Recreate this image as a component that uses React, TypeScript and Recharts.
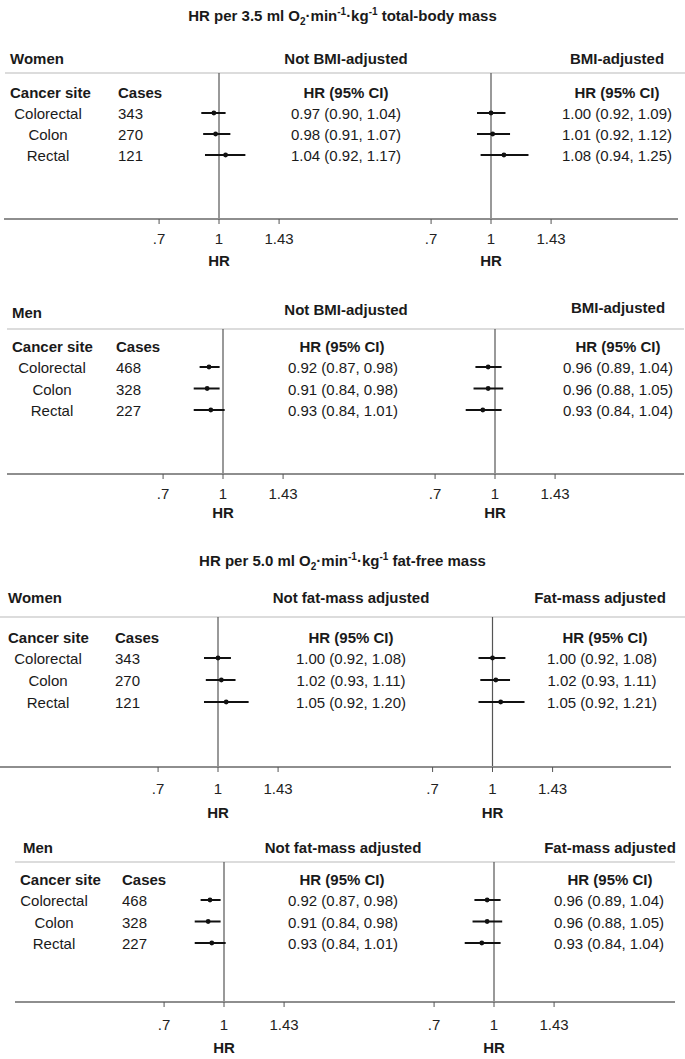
import React from 'react';
import { ScatterChart, Scatter, XAxis, YAxis, ReferenceLine, ErrorBar } from 'recharts';

const FONT = '"Liberation Sans", Arial, Helvetica, sans-serif';

// ---------- data ----------
const sites = ['Colorectal', 'Colon', 'Rectal'];
const womenCases = [343, 270, 121];
const menCases = [468, 328, 227];

// [HR, lower 95% CI, upper 95% CI]
const womenTotalNotBmi = [[0.97, 0.9, 1.04], [0.98, 0.91, 1.07], [1.04, 0.92, 1.17]];
const womenTotalBmi = [[1.0, 0.92, 1.09], [1.01, 0.92, 1.12], [1.08, 0.94, 1.25]];
const menTotalNotBmi = [[0.92, 0.87, 0.98], [0.91, 0.84, 0.98], [0.93, 0.84, 1.01]];
const menTotalBmi = [[0.96, 0.89, 1.04], [0.96, 0.88, 1.05], [0.93, 0.84, 1.04]];
const womenFfNotFm = [[1.0, 0.92, 1.08], [1.02, 0.93, 1.11], [1.05, 0.92, 1.2]];
const womenFfFm = [[1.0, 0.92, 1.08], [1.02, 0.93, 1.11], [1.05, 0.92, 1.21]];
const menFfNotFm = [[0.92, 0.87, 0.98], [0.91, 0.84, 0.98], [0.93, 0.84, 1.01]];
const menFfFm = [[0.96, 0.89, 1.04], [0.96, 0.88, 1.05], [0.93, 0.84, 1.04]];

const hrTicks = [0.7, 1, 1.43];
const hrTickLabels = ['.7', '1', '1.43'];

const titleTotal = { rate: '3.5', mass: 'total-body mass' };
const titleFatFree = { rate: '5.0', mass: 'fat-free mass' };

// ---------- layout ----------
const panels = [
  {
    title: titleTotal, titleY: 15,
    sex: 'Women', cases: womenCases, left: womenTotalNotBmi, right: womenTotalBmi,
    leftHead: 'Not BMI-adjusted', rightHead: 'BMI-adjusted',
    sexX: 10, sexY: 58, leftHeadY: 58, rightHeadY: 58, leftHeadC: 346, rightHeadC: 617,
    lineY: 73, lineX0: 5, lineX1: 685, colY: 92, cancerX: 10, casesX: 118, hrHeadLC: 346, hrHeadRC: 617,
    row0: 113, step: 21, siteC: 48, ciLC: 346, ciRC: 617,
    axisY: 219, axisX0: 4, axisX1: 678, split: 355, vL: 219, vR: 491, tickMargin: 9, hrY: 260,
  },
  {
    title: null, titleY: 0,
    sex: 'Men', cases: menCases, left: menTotalNotBmi, right: menTotalBmi,
    leftHead: 'Not BMI-adjusted', rightHead: 'BMI-adjusted',
    sexX: 12, sexY: 312, leftHeadY: 309, rightHeadY: 307, leftHeadC: 346, rightHeadC: 618,
    lineY: 329, lineX0: 7, lineX1: 684, colY: 346, cancerX: 12, casesX: 116, hrHeadLC: 342, hrHeadRC: 618,
    row0: 367, step: 21.5, siteC: 52, ciLC: 343, ciRC: 618,
    axisY: 474, axisX0: 7, axisX1: 684, split: 358, vL: 223, vR: 495, tickMargin: 9, hrY: 512,
  },
  {
    title: titleFatFree, titleY: 560,
    sex: 'Women', cases: womenCases, left: womenFfNotFm, right: womenFfFm,
    leftHead: 'Not fat-mass adjusted', rightHead: 'Fat-mass adjusted',
    sexX: 8, sexY: 597, leftHeadY: 597, rightHeadY: 597, leftHeadC: 351, rightHeadC: 600,
    lineY: 617, lineX0: 0, lineX1: 685, colY: 637, cancerX: 8, casesX: 115, hrHeadLC: 351, hrHeadRC: 605,
    row0: 658, step: 22, siteC: 48, ciLC: 351, ciRC: 602,
    axisY: 767, axisX0: 0, axisX1: 671, split: 355, vL: 218, vR: 492.5, tickMargin: 11, hrY: 812,
  },
  {
    title: null, titleY: 0,
    sex: 'Men', cases: menCases, left: menFfNotFm, right: menFfFm,
    leftHead: 'Not fat-mass adjusted', rightHead: 'Fat-mass adjusted',
    sexX: 23, sexY: 847, leftHeadY: 847, rightHeadY: 847, leftHeadC: 343, rightHeadC: 610,
    lineY: 862, lineX0: 15, lineX1: 675, colY: 879, cancerX: 20, casesX: 122, hrHeadLC: 342, hrHeadRC: 610,
    row0: 900, step: 21.5, siteC: 54, ciLC: 343, ciRC: 609,
    axisY: 1002, axisX0: 15, axisX1: 675, split: 360, vL: 224, vR: 494, tickMargin: 12, hrY: 1047,
  },
];

const PX_PER_LN = 168;
const FS = 15;

const fmt = (v: number) => v.toFixed(2);
const ciText = (t: number[]) => `${fmt(t[0])} (${fmt(t[1])}, ${fmt(t[2])})`;

function T({ x, y, children, align = 'left', bold = false, size = FS }: any) {
  const tx = align === 'center' ? '-50%' : align === 'right' ? '-100%' : '0';
  return (
    <div
      style={{
        position: 'absolute', left: x, top: y, transform: `translate(${tx}, -50%)`,
        whiteSpace: 'nowrap', lineHeight: 1, fontSize: size, fontWeight: bold ? 'bold' : 'normal',
      }}
    >
      {children}
    </div>
  );
}

const Dot = (p: any) => <circle cx={p.cx} cy={p.cy} r={2.4} fill="#111" />;

function Forest({ series, x0, x1, vx, top, axisY, row0, step, tickMargin }: any) {
  const width = x1 - x0;
  const plotH = axisY - top;
  const axisH = 40;
  const xDomain = [Math.exp(-(vx - x0) / PX_PER_LN), Math.exp((x1 - vx) / PX_PER_LN)];
  const yDomain = [1 - (row0 - top) / step, 1 + (axisY - row0) / step];
  const rows = sites.map((s, i) => ({
    site: s,
    row: i + 1,
    hr: series[i][0],
    err: [series[i][0] - series[i][1], series[i][2] - series[i][0]],
  }));
  return (
    <div style={{ position: 'absolute', left: x0, top }}>
      <ScatterChart width={width} height={plotH + axisH} margin={{ top: 0, right: 0, bottom: 0, left: 0 }}>
        <XAxis
          type="number" dataKey="hr" scale="log" domain={xDomain} allowDataOverflow
          ticks={hrTicks} interval={0} height={axisH}
          tickFormatter={(v: number) => hrTickLabels[hrTicks.indexOf(v)] ?? String(v)}
          tickSize={5} tickMargin={tickMargin}
          axisLine={{ stroke: '#8e8e8e', strokeWidth: 2 }}
          tickLine={{ stroke: '#555', strokeWidth: 1 }}
          tick={{ fill: '#222', fontSize: FS, fontFamily: FONT }}
        />
        <YAxis type="number" dataKey="row" scale="linear" domain={yDomain} allowDataOverflow reversed hide />
        <ReferenceLine x={1} stroke="#555" strokeWidth={1.2} />
        <Scatter data={rows} isAnimationActive={false} shape={Dot}>
          <ErrorBar dataKey="err" direction="x" width={0} stroke="#111" strokeWidth={2} isAnimationActive={false} />
        </Scatter>
      </ScatterChart>
    </div>
  );
}

function Title({ y, t }: any) {
  const small: React.CSSProperties = { fontSize: 10, position: 'relative', lineHeight: 0 };
  return (
    <div
      style={{
        position: 'absolute', left: 0, width: 685, top: y, transform: 'translateY(-50%)',
        textAlign: 'center', fontWeight: 'bold', fontSize: FS, lineHeight: 1, whiteSpace: 'nowrap',
      }}
    >
      HR per {t.rate} ml O<span style={{ ...small, top: 4 }}>2</span>·min
      <span style={{ ...small, top: -6 }}>-1</span>·kg<span style={{ ...small, top: -6 }}>-1</span> {t.mass}
    </div>
  );
}

function Panel({ p }: any) {
  return (
    <>
      {p.title && <Title y={p.titleY} t={p.title} />}
      <T x={p.sexX} y={p.sexY} bold>{p.sex}</T>
      <T x={p.leftHeadC} y={p.leftHeadY} align="center" bold>{p.leftHead}</T>
      <T x={p.rightHeadC} y={p.rightHeadY} align="center" bold>{p.rightHead}</T>
      <div
        style={{
          position: 'absolute', left: p.lineX0, width: p.lineX1 - p.lineX0, top: p.lineY - 1,
          height: 2, background: '#dcdcdc',
        }}
      />
      <Forest series={p.left} x0={p.axisX0} x1={p.split} vx={p.vL} top={p.lineY} axisY={p.axisY}
        row0={p.row0} step={p.step} tickMargin={p.tickMargin} />
      <Forest series={p.right} x0={p.split} x1={p.axisX1} vx={p.vR} top={p.lineY} axisY={p.axisY}
        row0={p.row0} step={p.step} tickMargin={p.tickMargin} />
      <T x={p.cancerX} y={p.colY} bold>Cancer site</T>
      <T x={p.casesX} y={p.colY} bold>Cases</T>
      <T x={p.hrHeadLC} y={p.colY} align="center" bold>HR (95% CI)</T>
      <T x={p.hrHeadRC} y={p.colY} align="center" bold>HR (95% CI)</T>
      {sites.map((s, i) => (
        <React.Fragment key={s}>
          <T x={p.siteC} y={p.row0 + i * p.step} align="center">{s}</T>
          <T x={p.casesX} y={p.row0 + i * p.step}>{p.cases[i]}</T>
          <T x={p.ciLC} y={p.row0 + i * p.step} align="center">{ciText(p.left[i])}</T>
          <T x={p.ciRC} y={p.row0 + i * p.step} align="center">{ciText(p.right[i])}</T>
        </React.Fragment>
      ))}
      <T x={p.vL} y={p.hrY} align="center" bold>HR</T>
      <T x={p.vR} y={p.hrY} align="center" bold>HR</T>
    </>
  );
}

export default function App() {
  return (
    <div
      style={{
        position: 'absolute', left: 0, top: 0, width: 685, height: 1059, background: '#fff',
        fontFamily: FONT, color: '#1a1a1a', overflow: 'hidden',
      }}
    >
      {panels.map((p, i) => (
        <Panel key={i} p={p} />
      ))}
    </div>
  );
}
